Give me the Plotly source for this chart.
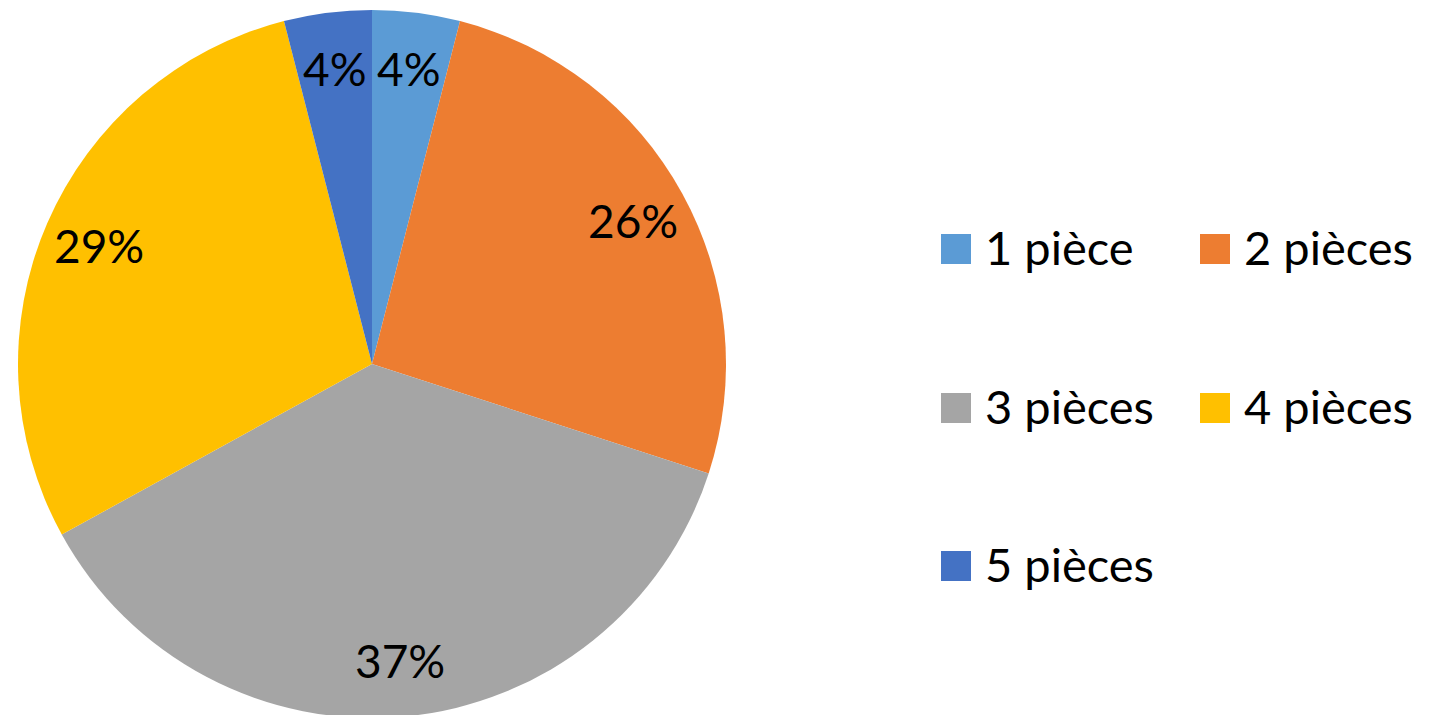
import math
import plotly.graph_objects as go

categories = ["1 pièce", "2 pièces", "3 pièces", "4 pièces", "5 pièces"]
values = [4, 26, 37, 29, 4]
colors = ["#5B9BD5", "#ED7D31", "#A5A5A5", "#FFC000", "#4472C4"]

W, H = 1432, 715
OFF = 8  # browser body margin: page px = div px + OFF
M_T, M_B = 2, 5
PIE_W = 728  # pixel width of the pie domain (div coords)
FONT = "Lato"
FS = 46

plot_h = H - M_T - M_B


def px_to_paper(xp, yp):
    """page pixel -> paper coordinates"""
    xd, yd = xp - OFF, yp - OFF
    return xd / W, (H - M_B - yd) / plot_h


fig = go.Figure(
    go.Pie(
        labels=categories,
        values=values,
        marker=dict(colors=colors, line=dict(width=0)),
        sort=False,
        direction="clockwise",
        rotation=0,
        textinfo="none",
        hoverinfo="label+percent",
        showlegend=False,
        domain=dict(x=[0, PIE_W / W], y=[0, 1]),
    )
)

# percentage labels placed along each slice's mid-angle, near the outer edge
total = sum(values)
R = min(PIE_W, plot_h) / 2
cx, cy = PIE_W / 2 + OFF, M_T + plot_h / 2 + OFF
annotations = []
cum = 0
for v in values:
    mid = (cum + v / 2) / total * 2 * math.pi
    cum += v
    xp = cx + 0.84 * R * math.sin(mid)
    yp = cy - 0.84 * R * math.cos(mid)
    xa, ya = px_to_paper(xp, yp)
    annotations.append(dict(
        x=xa, y=ya, xref="paper", yref="paper", showarrow=False,
        text=f"{round(v / total * 100)}%", xanchor="center", yanchor="middle",
        font=dict(family=FONT, size=FS, color="black"),
    ))

# manual legend in two columns (page pixel positions)
col_x = [941, 1200]
row_y = [249, 408, 566]
SQ = 30
shapes = []
for i, (name, col) in enumerate(zip(categories, colors)):
    lx = col_x[i % 2]
    ly = row_y[i // 2]
    x0, y0 = px_to_paper(lx, ly + SQ / 2)
    x1, y1 = px_to_paper(lx + SQ, ly - SQ / 2)
    shapes.append(dict(type="rect", xref="paper", yref="paper",
                       x0=x0, x1=x1, y0=y0, y1=y1,
                       fillcolor=col, line=dict(width=0)))
    tx, ty = px_to_paper(lx + 42, ly - 2)
    annotations.append(dict(
        x=tx, y=ty, xref="paper", yref="paper", showarrow=False,
        text=name, xanchor="left", yanchor="middle",
        font=dict(family=FONT, size=47, color="black"),
    ))

fig.update_layout(
    width=W, height=H,
    margin=dict(l=0, r=0, t=M_T, b=M_B),
    paper_bgcolor="white", plot_bgcolor="white",
    annotations=annotations, shapes=shapes,
    showlegend=False,
)

fig.write_html("out.html")
